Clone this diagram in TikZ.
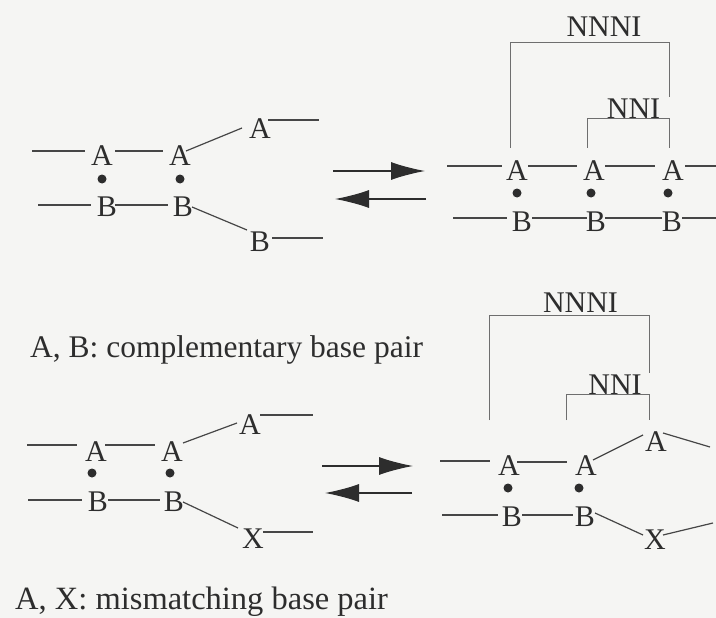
\documentclass[tikz,border=0pt]{standalone}
\usepackage{fontspec}
\setmainfont{Liberation Serif}
\usetikzlibrary{arrows.meta,calc}
\definecolor{bgc}{RGB}{245,245,243}
\definecolor{ink}{RGB}{45,45,45}
\definecolor{strand}{RGB}{70,70,70}
\definecolor{brk}{RGB}{110,110,110}
\tikzset{
  base/.style={font=\fontsize{30}{36}\selectfont, text=ink, inner sep=0pt, anchor=center},
  lbl/.style={font=\fontsize{30}{36}\selectfont, text=ink, inner sep=0pt, anchor=base},
  captext/.style={font=\fontsize{31.5}{38}\selectfont, text=ink, inner sep=0pt, anchor=base west},
  sline/.style={draw=strand, line width=1.2pt},
  bline/.style={draw=brk, line width=0.9pt},
  pdot/.style={fill=ink, draw=none},
  eqarrow/.style={draw=ink, line width=1.2pt, -{Latex[length=34pt,width=18pt]}}
}
\begin{document}
\begin{tikzpicture}[x=1pt,y=-1pt]
\fill[bgc] (0,0) rectangle (716,618);
\useasboundingbox (0,0) rectangle (716,618);

% ---------------- Diagram 1 (top left) ----------------
\node[base] (d1a1) at (102,156) {A};
\node[base] (d1a2) at (180,156) {A};
\node[base] (d1a3) at (260,129) {A};
\node[base] (d1b1) at (107,207) {B};
\node[base] (d1b2) at (183,207) {B};
\node[base] (d1b3) at (260,242) {B};
\fill[pdot] (102,179) circle (4.5);
\fill[pdot] (180,179) circle (4.5);
\coordinate (d1fa) at (32,151);
\coordinate (d1ga) at (319,120);
\coordinate (d1fb) at (38,205);
\coordinate (d1gb) at (323,238);
\draw[sline] (d1fa) -- ($(d1a1)+(-17,-5)$);
\draw[sline] ($(d1a1)+(13,-5)$) -- ($(d1a2)+(-17,-5)$);
\draw[sline] ($(d1a2)+(6,-5)$) -- ($(d1a3)+(-18,-1)$);
\draw[sline] ($(d1a3)+(8,-9)$) -- (d1ga);
\draw[sline] (d1fb) -- ($(d1b1)+(-16,-2)$);
\draw[sline] ($(d1b1)+(8,-2)$) -- ($(d1b2)+(-15,-2)$);
\draw[sline] ($(d1b2)+(9,0)$) -- ($(d1b3)+(-13,-12)$);
\draw[sline] ($(d1b3)+(12,-4)$) -- (d1gb);

% arrows top
\coordinate (ar1s) at (333,171); \coordinate (ar1e) at (425,171);
\coordinate (ar2s) at (426,199); \coordinate (ar2e) at (335,199);
\draw[eqarrow] (ar1s) -- (ar1e);
\draw[eqarrow] (ar2s) -- (ar2e);

% ---------------- Diagram 2 (top right) ----------------
\node[base] (d2a1) at (517,171) {A};
\node[base] (d2a2) at (594,171) {A};
\node[base] (d2a3) at (673,171) {A};
\node[base] (d2b1) at (522,222) {B};
\node[base] (d2b2) at (596,222) {B};
\node[base] (d2b3) at (672,222) {B};
\fill[pdot] (517,193) circle (4.5);
\fill[pdot] (591,193) circle (4.5);
\fill[pdot] (668,193) circle (4.5);
\coordinate (d2fa) at (447,166);
\coordinate (d2ga) at (716,166);
\coordinate (d2fb) at (453,218);
\coordinate (d2gb) at (716,218);
\draw[sline] (d2fa) -- ($(d2a1)+(-15,-5)$);
\draw[sline] ($(d2a1)+(11,-5)$) -- ($(d2a2)+(-17,-5)$);
\draw[sline] ($(d2a2)+(11,-5)$) -- ($(d2a3)+(-18,-5)$);
\draw[sline] ($(d2a3)+(12,-5)$) -- (d2ga);
\draw[sline] (d2fb) -- ($(d2b1)+(-15,-4)$);
\draw[sline] ($(d2b1)+(10,-4)$) -- ($(d2b2)+(-9,-4)$);
\draw[sline] ($(d2b2)+(9,-4)$) -- ($(d2b3)+(-10,-4)$);
\draw[sline] ($(d2b3)+(10,-4)$) -- (d2gb);
% brackets
\draw[bline] (510,148) -- (510,42) -- (669,42) -- (669,97);
\draw[bline] (587,148) -- (587,118) -- (669,118) -- (669,148);
\node[lbl] (d2nnni) at (604,37) {NNNI};
\node[lbl] (d2nni) at (633.5,118) {NNI};

% caption 1
\node[captext] (cap1) at (30,357) {A, B: complementary base pair};

% ---------------- Diagram 3 (bottom left) ----------------
\node[base] (d3a1) at (96,452) {A};
\node[base] (d3a2) at (172,452) {A};
\node[base] (d3a3) at (250,425) {A};
\node[base] (d3b1) at (98,502) {B};
\node[base] (d3b2) at (174,502) {B};
\node[base] (d3x) at (253,539) {X};
\fill[pdot] (92,473) circle (4.5);
\fill[pdot] (170,473) circle (4.5);
\coordinate (d3fa) at (27,445);
\coordinate (d3ga) at (313,415);
\coordinate (d3fb) at (28,500);
\coordinate (d3gb) at (313,532);
\draw[sline] (d3fa) -- ($(d3a1)+(-19,-7)$);
\draw[sline] ($(d3a1)+(9,-7)$) -- ($(d3a2)+(-17,-7)$);
\draw[sline] ($(d3a2)+(11,-9)$) -- ($(d3a3)+(-13,-2)$);
\draw[sline] ($(d3a3)+(10,-10)$) -- (d3ga);
\draw[sline] (d3fb) -- ($(d3b1)+(-16,-2)$);
\draw[sline] ($(d3b1)+(10,-2)$) -- ($(d3b2)+(-14,-2)$);
\draw[sline] ($(d3b2)+(9,0)$) -- ($(d3x)+(-15,-11)$);
\draw[sline] ($(d3x)+(10,-7)$) -- (d3gb);

% arrows bottom
\coordinate (ar3s) at (322,466); \coordinate (ar3e) at (413,466);
\coordinate (ar4s) at (412,493); \coordinate (ar4e) at (325,493);
\draw[eqarrow] (ar3s) -- (ar3e);
\draw[eqarrow] (ar4s) -- (ar4e);

% ---------------- Diagram 4 (bottom right) ----------------
\node[base] (d4a1) at (509,466) {A};
\node[base] (d4a2) at (586,466) {A};
\node[base] (d4a3) at (656,442) {A};
\node[base] (d4b1) at (512,517) {B};
\node[base] (d4b2) at (585,517) {B};
\node[base] (d4x) at (655,540) {X};
\fill[pdot] (508,488) circle (4.5);
\fill[pdot] (579,488) circle (4.5);
\coordinate (d4fa) at (440,461);
\coordinate (d4ga) at (710,447);
\coordinate (d4fb) at (442,515);
\coordinate (d4gb) at (713,523);
\draw[sline] (d4fa) -- ($(d4a1)+(-19,-5)$);
\draw[sline] ($(d4a1)+(8,-4)$) -- ($(d4a2)+(-19,-4)$);
\draw[sline] ($(d4a2)+(7,-6)$) -- ($(d4a3)+(-13,-7)$);
\draw[sline] ($(d4a3)+(7,-9)$) -- (d4ga);
\draw[sline] (d4fb) -- ($(d4b1)+(-14,-2)$);
\draw[sline] ($(d4b1)+(10,-2)$) -- ($(d4b2)+(-12,-2)$);
\draw[sline] ($(d4b2)+(10,-4)$) -- ($(d4x)+(-12,-5)$);
\draw[sline] ($(d4x)+(8,-5)$) -- (d4gb);
% brackets
\draw[bline] (489,420) -- (489,315) -- (649,315) -- (649,373);
\draw[bline] (566,420) -- (566,394) -- (649,394) -- (649,420);
\node[lbl] (d4nnni) at (580.5,312) {NNNI};
\node[lbl] (d4nni) at (615,394) {NNI};

% caption 2
\node[captext, font=\fontsize{32.5}{39}\selectfont] (cap2) at (15,609.5) {A, X: mismatching base pair};
\end{tikzpicture}
\end{document}
